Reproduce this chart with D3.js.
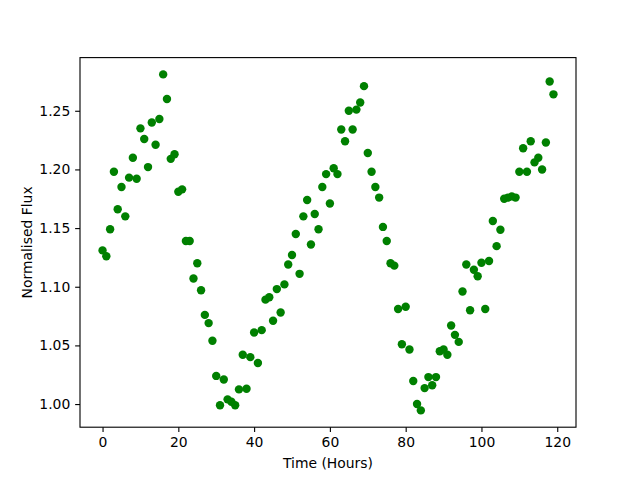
<!DOCTYPE html>
<html>
<head>
<meta charset="utf-8">
<script src="https://cdn.jsdelivr.net/npm/d3@7"></script>
<style>
  html, body { margin: 0; padding: 0; background: #fff; }
  text { font-family: "DejaVu Sans", sans-serif; }
</style>
</head>
<body>
<svg id="chart" width="640" height="480"></svg>
<script>
// time in hours, one reading per hour
const hours = d3.range(0, 120);

// normalised flux
const flux = [
  1.131, 1.126, 1.149, 1.198, 1.166, 1.185, 1.160, 1.193, 1.210, 1.192,
  1.235, 1.226, 1.202, 1.240, 1.221, 1.243, 1.281, 1.260, 1.209, 1.213,
  1.181, 1.183, 1.139, 1.139, 1.107, 1.120, 1.097, 1.076, 1.069, 1.054,
  1.024, 0.999, 1.021, 1.004, 1.002, 0.999, 1.0125, 1.042, 1.013, 1.040,
  1.061, 1.035, 1.063, 1.089, 1.091, 1.071, 1.098, 1.078, 1.102, 1.119,
  1.127, 1.145, 1.111, 1.160, 1.174, 1.136, 1.162, 1.149, 1.185, 1.196,
  1.171, 1.201, 1.196, 1.234, 1.224, 1.250, 1.234, 1.251, 1.257, 1.271,
  1.214, 1.198, 1.185, 1.176, 1.151, 1.139, 1.120, 1.118, 1.081, 1.051,
  1.083, 1.0465, 1.0196, 1.000, 0.9946, 1.0136, 1.023, 1.016, 1.023, 1.045,
  1.0465, 1.042, 1.067, 1.059, 1.053, 1.096, 1.119, 1.080, 1.1145, 1.109,
  1.1205, 1.081, 1.122, 1.156, 1.1346, 1.1486, 1.175, 1.176, 1.177, 1.176,
  1.198, 1.218, 1.198, 1.224, 1.206, 1.210, 1.200, 1.223, 1.275, 1.264
];

const xTicks = [0, 20, 40, 60, 80, 100, 120];
const yTicks = [1.00, 1.05, 1.10, 1.15, 1.20, 1.25];

const width = 640, height = 480;
const margin = { top: 57.6, right: 64, bottom: 52.8, left: 80 };
const innerW = width - margin.left - margin.right;
const innerH = height - margin.top - margin.bottom;

// matplotlib style 5% padding around the data
function padded(ext) {
  const pad = (ext[1] - ext[0]) * 0.05;
  return [ext[0] - pad, ext[1] + pad];
}

const x = d3.scaleLinear().domain(padded(d3.extent(hours))).range([0, innerW]);
const y = d3.scaleLinear().domain(padded(d3.extent(flux))).range([innerH, 0]);

const svg = d3.select('#chart');
const g = svg.append('g').attr('transform', `translate(${margin.left},${margin.top})`);

const tickLen = 4.86;
const fontPx = 13.9;

// points
g.selectAll('circle')
  .data(hours.map((h, i) => ({ h, f: flux[i] })))
  .enter()
  .append('circle')
  .attr('cx', d => x(d.h))
  .attr('cy', d => y(d.f))
  .attr('r', 4.2)
  .attr('fill', '#008000');

// x axis
const xAxis = g.append('g')
  .attr('transform', `translate(0,${innerH})`)
  .call(d3.axisBottom(x).tickValues(xTicks).tickSize(tickLen).tickPadding(4.86).tickFormat(d3.format('d')));

// y axis
const yAxis = g.append('g')
  .call(d3.axisLeft(y).tickValues(yTicks).tickSize(tickLen).tickPadding(4.86).tickFormat(d3.format('.2f')));

[xAxis, yAxis].forEach(ax => {
  ax.select('.domain').remove();
  ax.selectAll('line').attr('stroke', '#000').attr('stroke-width', 1.11);
  ax.selectAll('text')
    .attr('fill', '#000')
    .style('font-size', fontPx + 'px')
    .style('font-family', '"DejaVu Sans", sans-serif');
});

// frame
g.append('rect')
  .attr('width', innerW)
  .attr('height', innerH)
  .attr('fill', 'none')
  .attr('stroke', '#000')
  .attr('stroke-width', 1.11);

// axis labels
svg.append('text')
  .attr('x', margin.left + innerW / 2)
  .attr('y', 468)
  .attr('text-anchor', 'middle')
  .style('font-size', fontPx + 'px')
  .text('Time (Hours)');

svg.append('text')
  .attr('transform', `translate(32,${margin.top + innerH / 2}) rotate(-90)`)
  .attr('text-anchor', 'middle')
  .style('font-size', fontPx + 'px')
  .text('Normalised Flux');
</script>
</body>
</html>
